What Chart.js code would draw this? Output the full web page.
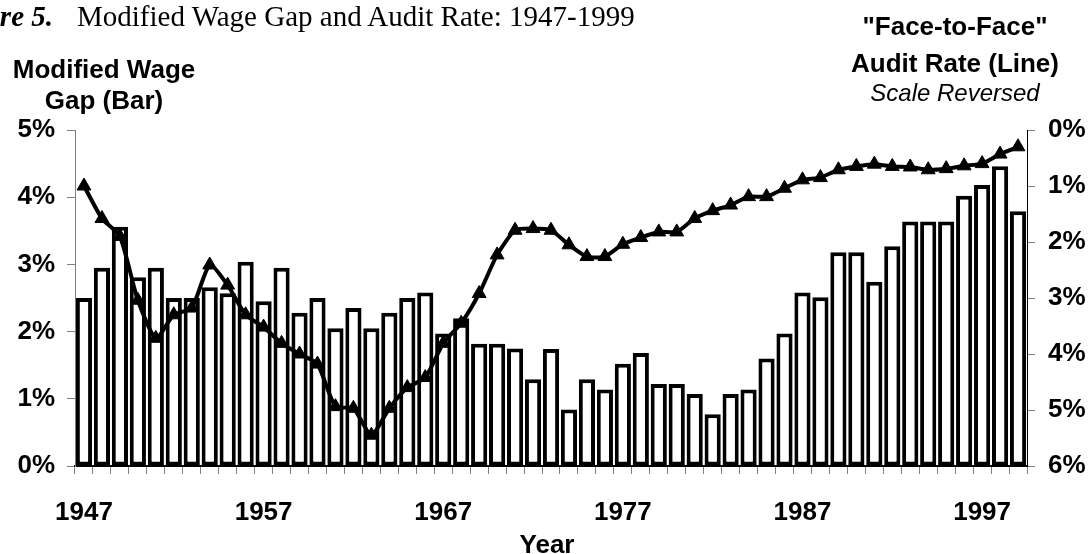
<!DOCTYPE html>
<html>
<head>
<meta charset="utf-8">
<script src="https://cdn.jsdelivr.net/npm/chart.js@4"></script>
<style>
  html, body { margin: 0; padding: 0; background: #fff; }
  #wrap { position: relative; width: 1090px; height: 554px; overflow: hidden; background: #fff; }
  #c { position: absolute; left: 0; top: 0; }
  .lbl { position: absolute; white-space: nowrap; color: #000; line-height: 1; }
  .sans { font-family: 'Liberation Sans', Arial, sans-serif; font-weight: bold; font-size: 26px; }
</style>
</head>
<body>
<div id="wrap">
  <canvas id="c" width="1090" height="554"></canvas>
  <div class="lbl" style="right:1037px; top:0px; font: italic bold 29px 'Liberation Serif', 'Times New Roman', serif;">Figure 5.</div>
  <div class="lbl" style="left:77px; top:0px; font: 29px 'Liberation Serif', 'Times New Roman', serif;">Modified Wage Gap and Audit Rate: 1947-1999</div>
  <div class="lbl sans" style="left:4px; width:200px; text-align:center; top:56px;">Modified Wage</div>
  <div class="lbl sans" style="left:4px; width:200px; text-align:center; top:87px;">Gap (Bar)</div>
  <div class="lbl sans" style="left:835px; width:240px; text-align:center; top:13px;">"Face-to-Face"</div>
  <div class="lbl sans" style="left:835px; width:240px; text-align:center; top:50px;">Audit Rate (Line)</div>
  <div class="lbl" style="left:835px; width:240px; text-align:center; top:79px; font: italic 24px 'Liberation Sans', Arial, sans-serif;">Scale Reversed</div>
  <div class="lbl sans" style="left:447px; width:200px; text-align:center; top:531px;">Year</div>
</div>
<script>
const years = [];
for (let y = 1947; y <= 1999; y++) years.push(String(y));

const labeledYears = ['1947', '1957', '1967', '1977', '1987', '1997'];

// Modified wage gap (%), bars, left axis
const wageGap = [
  2.50, 2.95, 3.56, 2.81, 2.95, 2.50, 2.50, 2.66, 2.57, 3.04,
  2.45, 2.95, 2.28, 2.50, 2.05, 2.35, 2.05, 2.28, 2.50, 2.58,
  1.97, 2.20, 1.82, 1.82, 1.75, 1.29, 1.74, 0.84, 1.29, 1.14,
  1.52, 1.68, 1.22, 1.22, 1.07, 0.77, 1.07, 1.14, 1.60, 1.97,
  2.58, 2.51, 3.18, 3.18, 2.74, 3.27, 3.64, 3.64, 3.64, 4.02,
  4.18, 4.46, 3.79
];

// "Face-to-face" audit rate (%), line, right axis (reversed)
const auditRate = [
  1.00, 1.58, 1.90, 3.04, 3.72, 3.30, 3.18, 2.41, 2.77, 3.30,
  3.52, 3.81, 4.00, 4.18, 4.94, 4.97, 5.45, 4.97, 4.60, 4.42,
  3.81, 3.45, 2.92, 2.23, 1.79, 1.76, 1.79, 2.05, 2.26, 2.26,
  2.04, 1.92, 1.82, 1.82, 1.58, 1.44, 1.34, 1.19, 1.19, 1.04,
  0.89, 0.85, 0.71, 0.65, 0.61, 0.65, 0.66, 0.71, 0.69, 0.64,
  0.60, 0.43, 0.30
];

const leftTicks = [0, 1, 2, 3, 4, 5];
const rightTicks = [0, 1, 2, 3, 4, 5, 6];

const tickFont = { family: "'Liberation Sans', Arial, sans-serif", size: 26, weight: 'bold' };

new Chart(document.getElementById('c'), {
  data: {
    labels: years,
    datasets: [
      {
        type: 'line',
        label: 'Audit Rate',
        data: auditRate,
        yAxisID: 'y2',
        borderColor: '#000',
        backgroundColor: '#000',
        borderWidth: 4,
        tension: 0.2,
        pointStyle: 'triangle',
        pointRadius: 8,
        pointBorderWidth: 1,
        pointBackgroundColor: '#000',
        pointBorderColor: '#000',
        clip: false,
        order: 0
      },
      {
        type: 'bar',
        label: 'Wage Gap',
        data: wageGap,
        yAxisID: 'y',
        backgroundColor: '#fff',
        borderColor: '#000',
        borderWidth: 4,
        borderSkipped: false,
        barPercentage: 0.9,
        categoryPercentage: 1.0,
        order: 1
      }
    ]
  },
  options: {
    responsive: false,
    animation: false,
    events: [],
    layout: { padding: { top: 130, left: 0, right: 0, bottom: 0 } },
    plugins: { legend: { display: false }, tooltip: { enabled: false }, title: { display: false } },
    scales: {
      x: {
        type: 'category',
        offset: true,
        grid: { offset: true, drawOnChartArea: false, tickLength: 8, color: '#808080', tickWidth: 1 },
        border: { color: '#000', width: 2 },
        ticks: {
          autoSkip: false, maxRotation: 0, minRotation: 0, padding: 23,
          color: '#000', font: tickFont,
          callback: function (v, i) { const l = years[i]; return labeledYears.includes(l) ? l : ''; }
        },
        afterFit: function (s) { s.height = 88; }
      },
      y: {
        position: 'left',
        min: leftTicks[0], max: leftTicks[leftTicks.length - 1],
        grid: { drawOnChartArea: false, tickLength: 8, color: '#808080' },
        border: { color: '#808080', width: 1 },
        ticks: { stepSize: 1, padding: 12, color: '#000', font: tickFont, callback: v => v + '%' },
        afterFit: function (s) { s.width = 75; }
      },
      y2: {
        position: 'right',
        reverse: true,
        min: rightTicks[0], max: rightTicks[rightTicks.length - 1],
        grid: { drawOnChartArea: false, tickLength: 8, color: '#808080' },
        border: { color: '#000', width: 1 },
        ticks: { stepSize: 1, padding: 13, color: '#000', font: tickFont, callback: v => v + '%' },
        afterFit: function (s) { s.width = 63; }
      }
    }
  }
});
</script>
</body>
</html>
